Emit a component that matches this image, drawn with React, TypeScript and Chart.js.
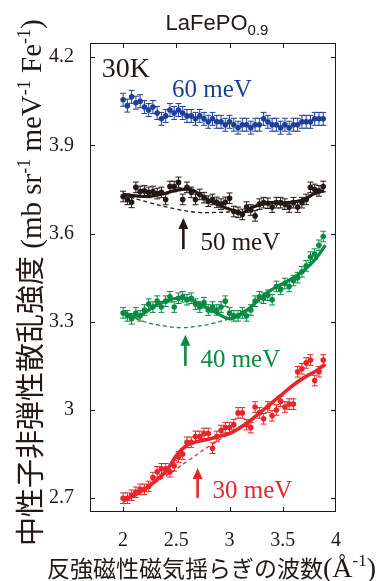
import React, { useEffect, useRef } from "react";
import { Chart, registerables } from "chart.js";

Chart.register(...registerables);

// ---------- data ----------
const qValues = [
  2.0, 2.04, 2.08, 2.12, 2.16, 2.2, 2.24, 2.28, 2.32, 2.36, 2.4, 2.44, 2.48, 2.52, 2.56, 2.6,
  2.64, 2.68, 2.72, 2.76, 2.8, 2.84, 2.88, 2.92, 2.96, 3.0, 3.04, 3.08, 3.12, 3.16, 3.2, 3.24,
  3.28, 3.32, 3.36, 3.4, 3.44, 3.48, 3.52, 3.56, 3.6, 3.64, 3.68, 3.72, 3.76, 3.8, 3.84, 3.88,
];

const intensity60 = [
  4.055, 4.035, 4.065, 4.045, 4.05, 4.03, 4.02, 4.03, 4.01, 3.99, 4.0, 4.02, 4.01, 4.02, 4.01, 4.0,
  4.0, 3.99, 4.0, 3.99, 3.98, 3.99, 3.98, 3.98, 3.97, 3.98, 3.97, 3.96, 3.97, 3.97, 3.96, 3.97,
  3.97, 3.99, 3.98, 3.97, 3.97, 3.96, 3.97, 3.96, 3.97, 3.97, 3.98, 3.98, 3.98, 3.99, 3.99, 3.99,
];

const intensity50 = [
  3.726, 3.716, 3.706, 3.757, 3.743, 3.745, 3.74, 3.743, 3.736, 3.74, 3.716, 3.76, 3.76, 3.774, 3.716, 3.757,
  3.74, 3.716, 3.733, 3.722, 3.71, 3.716, 3.706, 3.7, 3.706, 3.72, 3.675, 3.672, 3.665, 3.69, 3.68, 3.66,
  3.7, 3.705, 3.703, 3.69, 3.705, 3.705, 3.7, 3.69, 3.705, 3.69, 3.705, 3.716, 3.757, 3.75, 3.745, 3.76,
];

const intensity40 = [
  3.33, 3.32, 3.31, 3.33, 3.32, 3.34, 3.36, 3.35, 3.37, 3.35, 3.37, 3.385, 3.35, 3.38, 3.385, 3.375,
  3.38, 3.36, 3.35, 3.365, 3.34, 3.35, 3.34, 3.35, 3.37, 3.33, 3.32, 3.32, 3.33, 3.32, 3.34, 3.37,
  3.385, 3.38, 3.39, 3.375, 3.42, 3.41, 3.43, 3.42, 3.44, 3.45, 3.47, 3.49, 3.52, 3.53, 3.56, 3.59,
];

const intensity30 = [
  2.7, 2.7, 2.71, 2.72, 2.73, 2.73, 2.74, 2.77, 2.79, 2.8, 2.8, 2.79, 2.81, 2.84, 2.85, 2.89,
  2.89, 2.91, 2.91, 2.92, 2.92, 2.87, 2.91, 2.93, 2.94, 2.94, 2.95, 2.99, 2.99, 2.95, 2.94, 3.01,
  2.99, 2.97, 3.01, 2.98, 3.0, 3.03, 3.01, 3.02, 3.02, 3.13, 3.14, 3.16, 3.17, 3.1, 3.13, 3.17,
];

const errorSize = [0.022, 0.018, 0.018, 0.018]; // 60, 50, 40, 30 meV

// fitted curves
const fitQ50 = [2.0, 2.2, 2.35, 2.5, 2.63, 2.72, 2.82, 2.94, 3.07, 3.12, 3.22, 3.38, 3.54, 3.69, 3.82, 3.89];
const fit50 = [3.733, 3.726, 3.733, 3.747, 3.75, 3.733, 3.71, 3.69, 3.675, 3.67, 3.69, 3.705, 3.705, 3.715, 3.74, 3.745];
const baseQ50 = [2.0, 2.25, 2.5, 2.7, 2.9, 3.07];
const base50 = [3.73, 3.705, 3.683, 3.672, 3.672, 3.675];

const fitQ40 = [2.0, 2.1, 2.2, 2.3, 2.4, 2.5, 2.6, 2.7, 2.8, 2.9, 3.0, 3.1, 3.2, 3.3, 3.4, 3.5, 3.6, 3.7, 3.8, 3.9];
const fit40 = [3.335, 3.318, 3.33, 3.355, 3.37, 3.38, 3.378, 3.365, 3.345, 3.325, 3.31, 3.325, 3.35, 3.385, 3.41, 3.43, 3.45, 3.475, 3.51, 3.56];
const baseQ40 = [2.0, 2.2, 2.4, 2.55, 2.7, 2.85, 3.0];
const base40 = [3.33, 3.3, 3.285, 3.28, 3.285, 3.295, 3.31];

const fitQ30 = [2.0, 2.2, 2.4, 2.5, 2.6, 2.7, 2.8, 2.9, 3.0, 3.1, 3.2, 3.3, 3.4, 3.5, 3.6, 3.7, 3.8, 3.9];
const fit30 = [2.69, 2.73, 2.79, 2.845, 2.88, 2.893, 2.9, 2.91, 2.92, 2.94, 2.965, 2.995, 3.025, 3.055, 3.085, 3.11, 3.13, 3.155];
const baseQ30 = [2.0, 2.2, 2.4, 2.6, 2.8, 3.0];
const base30 = [2.695, 2.735, 2.775, 2.825, 2.875, 2.92];

const xTickValues = [2, 2.5, 3, 3.5, 4];
const xTickLabels = ["2", "2.5", "3", "3.5", "4"];
const yTickValues = [2.7, 3.0, 3.3, 3.6, 3.9, 4.2];
const yTickLabels = ["2.7", "3", "3.3", "3.6", "3.9", "4.2"];

const energyLabels = ["60 meV", "50 meV", "40 meV", "30 meV"];

// ---------- styles ----------
const COLORS = ["#1d3f9a", "#231815", "#0a8a43", "#e6262b"];
const INK = "#231815";
const SERIF = "'Liberation Serif', 'Times New Roman', serif";
const SANS = "'Liberation Sans', Arial, sans-serif";
const CJK = "'Noto Sans CJK JP', sans-serif";

// label placements in data coordinates
const labelPlacements = [
  { text: energyLabels[0], q: 2.46, v: 4.064, arrow: null },
  { text: energyLabels[1], q: 2.726, v: 3.544, arrow: { q: 2.566, tip: 3.653, tail: 3.547 } },
  { text: energyLabels[2], q: 2.726, v: 3.147, arrow: { q: 2.585, tip: 3.256, tail: 3.15 } },
  { text: energyLabels[3], q: 2.84, v: 2.701, arrow: { q: 2.7, tip: 2.803, tail: 2.701 } },
];

const pts = (xs: number[], ys: number[]) => xs.map((x, i) => ({ x, y: ys[i] }));

const errorBarPlugin = {
  id: "errorBars",
  beforeDatasetsDraw(chart: any) {
    const { ctx, scales } = chart;
    const xs = scales.x;
    const ys = scales.y;
    ctx.save();
    chart.data.datasets.forEach((ds: any) => {
      if (!ds.errorBar) return;
      ctx.strokeStyle = ds.backgroundColor;
      ctx.lineWidth = 1;
      ds.data.forEach((p: any) => {
        const px = xs.getPixelForValue(p.x);
        const y1 = ys.getPixelForValue(p.y + ds.errorBar);
        const y2 = ys.getPixelForValue(p.y - ds.errorBar);
        ctx.beginPath();
        ctx.moveTo(px, y1);
        ctx.lineTo(px, y2);
        ctx.moveTo(px - 3, y1);
        ctx.lineTo(px + 3, y1);
        ctx.moveTo(px - 3, y2);
        ctx.lineTo(px + 3, y2);
        ctx.stroke();
      });
    });
    ctx.restore();
  },
};

function drawRich(ctx: CanvasRenderingContext2D, parts: { t: string; font: string; dy?: number }[], x: number, y: number) {
  let cx = x;
  parts.forEach((p) => {
    ctx.font = p.font;
    ctx.fillText(p.t, cx, y + (p.dy || 0));
    cx += ctx.measureText(p.t).width;
  });
  return cx;
}

const decorPlugin = {
  id: "decor",
  afterDraw(chart: any) {
    const { ctx, chartArea, scales } = chart;
    const xs = scales.x;
    const ys = scales.y;
    const { left, right, top, bottom } = chartArea;
    ctx.save();

    // frame
    ctx.strokeStyle = INK;
    ctx.lineWidth = 1;
    ctx.strokeRect(left + 0.5, top + 0.5, right - left - 1, bottom - top - 1);

    // inward ticks
    const tl = 5;
    ctx.beginPath();
    xTickValues.forEach((v) => {
      const px = Math.round(xs.getPixelForValue(v)) + 0.5;
      if (px > right - 2) return;
      ctx.moveTo(px, bottom);
      ctx.lineTo(px, bottom - tl);
      ctx.moveTo(px, top);
      ctx.lineTo(px, top + tl);
    });
    yTickValues.forEach((v) => {
      const py = Math.round(ys.getPixelForValue(v)) + 0.5;
      ctx.moveTo(left, py);
      ctx.lineTo(left + tl, py);
      ctx.moveTo(right, py);
      ctx.lineTo(right - tl, py);
    });
    ctx.stroke();

    // title
    ctx.fillStyle = INK;
    ctx.textBaseline = "alphabetic";
    ctx.textAlign = "left";
    ctx.font = `22px ${SANS}`;
    const w1 = ctx.measureText("LaFePO").width;
    ctx.font = `15px ${SANS}`;
    const w2 = ctx.measureText("0.9").width;
    const tx = (left + right) / 2 + 4 - (w1 + w2) / 2;
    drawRich(ctx, [
      { t: "LaFePO", font: `22px ${SANS}` },
      { t: "0.9", font: `15px ${SANS}`, dy: 5 },
    ], tx, 30);

    // 30K
    ctx.font = `28px ${SERIF}`;
    ctx.fillText("30K", xs.getPixelForValue(1.8), ys.getPixelForValue(4.132));

    // energy labels and arrows
    labelPlacements.forEach((lp, i) => {
      ctx.fillStyle = COLORS[i];
      ctx.strokeStyle = COLORS[i];
      ctx.font = `25px ${SERIF}`;
      ctx.fillText(lp.text, xs.getPixelForValue(lp.q), ys.getPixelForValue(lp.v));
      if (lp.arrow) {
        const ax = xs.getPixelForValue(lp.arrow.q);
        const tipY = ys.getPixelForValue(lp.arrow.tip);
        const tailY = ys.getPixelForValue(lp.arrow.tail);
        ctx.lineWidth = 2.6;
        ctx.beginPath();
        ctx.moveTo(ax, tailY);
        ctx.lineTo(ax, tipY + 9);
        ctx.stroke();
        ctx.beginPath();
        ctx.moveTo(ax, tipY);
        ctx.lineTo(ax - 5, tipY + 11);
        ctx.lineTo(ax + 5, tipY + 11);
        ctx.closePath();
        ctx.fill();
      }
    });

    // x axis title
    ctx.fillStyle = INK;
    drawRich(ctx, [
      { t: "反強磁性磁気揺らぎの波数", font: `23px ${CJK}` },
      { t: "(Å", font: `28px ${SERIF}` },
      { t: "-1", font: `17px ${SERIF}`, dy: -11 },
      { t: ")", font: `28px ${SERIF}` },
    ], 47, 577);

    // y axis title (rotated)
    ctx.save();
    ctx.translate(41, 546);
    ctx.rotate(-Math.PI / 2);
    drawRich(ctx, [
      { t: "中性子非弾性散乱強度", font: `29px ${CJK}` },
      { t: " (mb sr", font: `29px ${SERIF}` },
      { t: "-1", font: `18px ${SERIF}`, dy: -11 },
      { t: " meV", font: `29px ${SERIF}` },
      { t: "-1", font: `18px ${SERIF}`, dy: -11 },
      { t: " Fe", font: `29px ${SERIF}` },
      { t: "-1", font: `18px ${SERIF}`, dy: -11 },
      { t: ")", font: `29px ${SERIF}` },
    ], 0, 0);
    ctx.restore();

    ctx.restore();
  },
};

export default function App() {
  const canvasRef = useRef<HTMLCanvasElement | null>(null);

  useEffect(() => {
    if (!canvasRef.current) return;
    const seriesY = [intensity60, intensity50, intensity40, intensity30];
    const fits = [null, [fitQ50, fit50, baseQ50, base50], [fitQ40, fit40, baseQ40, base40], [fitQ30, fit30, baseQ30, base30]];
    const datasets: any[] = [];
    fits.forEach((f, i) => {
      if (!f) return;
      datasets.push({
        label: energyLabels[i] + " fit",
        data: pts(f[0] as number[], f[1] as number[]),
        showLine: true,
        borderColor: COLORS[i],
        borderWidth: i === 3 ? 3.6 : 3.2,
        pointRadius: 0,
        tension: 0.4,
        fill: false,
      });
      datasets.push({
        label: energyLabels[i] + " background",
        data: pts(f[2] as number[], f[3] as number[]),
        showLine: true,
        borderColor: COLORS[i],
        borderWidth: 1.3,
        borderDash: [4, 3],
        pointRadius: 0,
        tension: 0.4,
        fill: false,
      });
    });
    seriesY.forEach((ys, i) => {
      datasets.push({
        label: energyLabels[i],
        data: pts(qValues, ys),
        showLine: false,
        pointRadius: 2.8,
        pointBorderWidth: 0,
        backgroundColor: COLORS[i],
        borderColor: COLORS[i],
        errorBar: errorSize[i],
      });
    });

    const chart = new Chart(canvasRef.current, {
      type: "scatter",
      data: { datasets },
      options: {
        animation: false,
        responsive: false,
        devicePixelRatio: 1,
        layout: { padding: { top: 43, right: 55, left: 0, bottom: 0 } },
        plugins: { legend: { display: false }, tooltip: { enabled: false }, title: { display: false } },
        scales: {
          x: {
            type: "linear",
            min: 1.689,
            max: 4.0,
            grid: { display: false },
            border: { display: false },
            afterBuildTicks: (s: any) => {
              s.ticks = xTickValues.map((v) => ({ value: v }));
            },
            afterFit: (s: any) => {
              s.height = 69;
            },
            ticks: {
              padding: 9,
              color: INK,
              font: { family: SERIF, size: 20 },
              maxRotation: 0,
              autoSkip: false,
              callback: (v: any) => {
                const i = xTickValues.findIndex((t) => Math.abs(t - v) < 1e-6);
                return i >= 0 ? xTickLabels[i] : "";
              },
            },
          },
          y: {
            type: "linear",
            min: 2.653,
            max: 4.248,
            grid: { display: false },
            border: { display: false },
            afterBuildTicks: (s: any) => {
              s.ticks = yTickValues.map((v) => ({ value: v }));
            },
            afterFit: (s: any) => {
              s.width = 90;
            },
            ticks: {
              padding: 8,
              color: INK,
              font: { family: SERIF, size: 20 },
              autoSkip: false,
              callback: (v: any) => {
                const i = yTickValues.findIndex((t) => Math.abs(t - v) < 1e-6);
                return i >= 0 ? yTickLabels[i] : "";
              },
            },
          },
        },
      } as any,
      plugins: [errorBarPlugin, decorPlugin],
    });
    return () => chart.destroy();
  }, []);

  return (
    <div style={{ position: "fixed", left: 0, top: 0, width: 391, height: 581, background: "#fff" }}>
      <canvas ref={canvasRef} width={391} height={581} style={{ display: "block" }} />
    </div>
  );
}
